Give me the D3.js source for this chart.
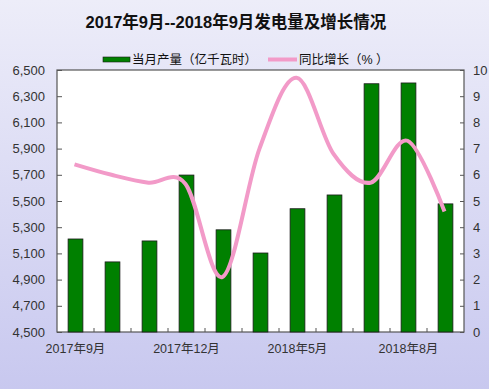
<!DOCTYPE html>
<html><head><meta charset="utf-8">
<script src="https://cdn.jsdelivr.net/npm/d3@7"></script>
<style>body{margin:0;}svg{display:block;}</style>
</head><body>
<svg id="c" width="489" height="389"></svg>
<script>
const categories = ["2017年9月","2017年10月","2017年11月","2017年12月","2018年3月","2018年4月","2018年5月","2018年6月","2018年7月","2018年8月","2018年9月"];
const output = [5210, 5035, 5195, 5698, 5280, 5103, 5441, 5546, 6395, 6401, 5478];
const growth = [6.4, 6.0, 5.7, 5.65, 2.1, 7.0, 9.7, 6.8, 5.7, 7.3, 4.6];
const leftTicks = [4500,4700,4900,5100,5300,5500,5700,5900,6100,6300,6500];
const rightTicks = [0,1,2,3,4,5,6,7,8,9,10];
const shownLabels = ["2017年9月","2017年12月","2018年5月","2018年8月"];

const svg = d3.select("#c");
const W = 489, H = 389;
const defs = svg.append("defs");
const g1 = defs.append("linearGradient").attr("id","bg").attr("x1",0).attr("y1",0).attr("x2",0).attr("y2",1);
g1.append("stop").attr("offset","0%").attr("stop-color","#ededf9");
g1.append("stop").attr("offset","100%").attr("stop-color","#c8c8ef");
svg.append("rect").attr("width",W).attr("height",H).attr("fill","url(#bg)");

const m = {l:57, r:464, t:70, b:332};
const x = d3.scaleBand().domain(categories).range([m.l, m.r]).paddingInner(0.6).paddingOuter(0.3);
const xb = d3.scaleBand().domain(categories).range([m.l, m.r]);
const yL = d3.scaleLinear().domain([4500,6500]).range([m.b, m.t]);
const yR = d3.scaleLinear().domain([0,10]).range([m.b, m.t]);

svg.append("rect").attr("x",m.l).attr("y",m.t).attr("width",m.r-m.l).attr("height",m.b-m.t)
  .attr("fill","#fff").attr("stroke","#555").attr("stroke-width",1.2);

const font = "'Liberation Sans', Arial, 'Noto Sans CJK SC', sans-serif";
// left axis
const axL = svg.append("g").attr("transform",`translate(${m.l},0)`)
  .call(d3.axisRight(yL).tickValues(leftTicks).tickSize(5).tickFormat(""));
axL.select(".domain").remove();
axL.selectAll("line").attr("stroke","#555");
svg.append("g").selectAll("text").data(leftTicks).join("text")
  .attr("x",45).attr("y",d=>yL(d)).attr("dy","0.35em").attr("text-anchor","end")
  .attr("font-family",font).attr("font-size",13).attr("fill","#333")
  .text(d=>d3.format(",")(d));
// right axis
const axR = svg.append("g").attr("transform",`translate(${m.r},0)`)
  .call(d3.axisLeft(yR).tickValues(rightTicks).tickSize(4).tickFormat(""));
axR.select(".domain").remove();
axR.selectAll("line").attr("stroke","#555");
svg.append("g").selectAll("text").data(rightTicks).join("text")
  .attr("x",473).attr("y",d=>yR(d)).attr("dy","0.35em").attr("text-anchor","start")
  .attr("font-family",font).attr("font-size",13).attr("fill","#333")
  .text(d=>d);
// bottom ticks
svg.append("g").selectAll("line").data(categories.slice(1)).join("line")
  .attr("x1",d=>xb(d)).attr("x2",d=>xb(d)).attr("y1",m.b).attr("y2",m.b-4)
  .attr("stroke","#555");
svg.append("g").selectAll("text").data(shownLabels).join("text")
  .attr("x",d=>x(d)+x.bandwidth()/2).attr("y",353).attr("text-anchor","middle")
  .attr("font-family",font).attr("font-size",12.5).attr("fill","#333").text(d=>d);

// bars
svg.append("g").selectAll("rect").data(categories).join("rect")
  .attr("x",d=>x(d)).attr("width",x.bandwidth())
  .attr("y",(d,i)=>yL(output[i])).attr("height",(d,i)=>m.b-yL(output[i]))
  .attr("fill","#008000").attr("stroke","#1a1a1a").attr("stroke-width",0.8);

// line
const line = d3.line().x((d,i)=>x(categories[i])+x.bandwidth()/2 - 1).y(d=>yR(d))
  .curve(d3.curveCardinal.tension(0));
svg.append("path").datum(growth).attr("d",line).attr("fill","none")
  .attr("stroke","#f29ac8").attr("stroke-width",4).attr("stroke-linecap","butt");

// title
svg.append("text").attr("x",236).attr("y",28).attr("text-anchor","middle")
  .attr("font-family",font).attr("font-weight","bold").attr("font-size",16.5).attr("fill","#111")
  .text("2017年9月--2018年9月发电量及增长情况");

// legend
svg.append("rect").attr("x",103).attr("y",57).attr("width",27).attr("height",5)
  .attr("fill","#008000").attr("stroke","#1a1a1a").attr("stroke-width",0.6);
svg.append("text").attr("x",132).attr("y",64).attr("font-family",font).attr("font-size",12.5).attr("fill","#111")
  .text("当月产量（亿千瓦时）");
svg.append("line").attr("x1",268).attr("x2",297).attr("y1",59.5).attr("y2",59.5)
  .attr("stroke","#f29ac8").attr("stroke-width",4);
svg.append("text").attr("x",299).attr("y",64).attr("font-family",font).attr("font-size",12.5).attr("fill","#111")
  .text("同比增长（% ）");
</script>
</body></html>
